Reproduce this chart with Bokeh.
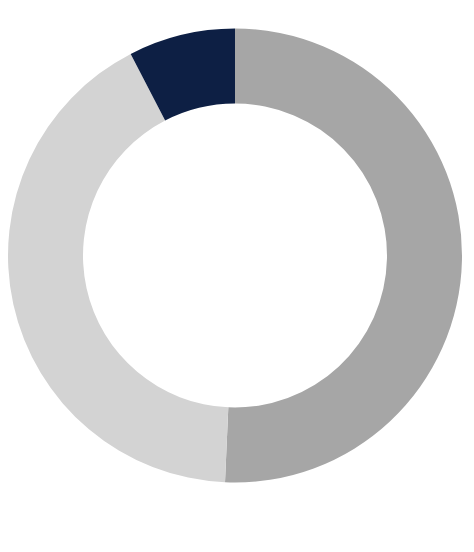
import math
from bokeh.plotting import figure
from bokeh.models import Range1d, ColumnDataSource
from bokeh.embed import file_html
from bokeh.resources import INLINE

categories = ["A", "B", "C"]
values = [50.7, 41.7, 7.6]
colors = ["#a6a6a6", "#d3d3d3", "#0d1f44"]

total = sum(values)
starts, ends = [], []
acc = 0.0
for v in values:
    s = math.pi / 2 - 2 * math.pi * acc / total
    acc += v
    e = math.pi / 2 - 2 * math.pi * acc / total
    starts.append(s)
    ends.append(e)

src = ColumnDataSource(dict(cat=categories, val=values, color=colors, start=starts, end=ends))

W, H = 466, 544
p = figure(width=W, height=H, output_backend="svg", toolbar_location=None,
           x_range=Range1d(0, W), y_range=Range1d(0, H), min_border=0)
p.axis.visible = False
p.grid.visible = False
p.outline_line_color = None
p.background_fill_color = "white"
p.border_fill_color = "white"

cx, cy = 234.5, H - 255
p.annular_wedge(x=cx, y=cy, inner_radius=152, outer_radius=227,
                inner_radius_units="screen", outer_radius_units="screen",
                start_angle="start", end_angle="end", direction="clock",
                color="color", line_color=None, source=src)

open("out.html", "w").write(file_html(p, INLINE))
